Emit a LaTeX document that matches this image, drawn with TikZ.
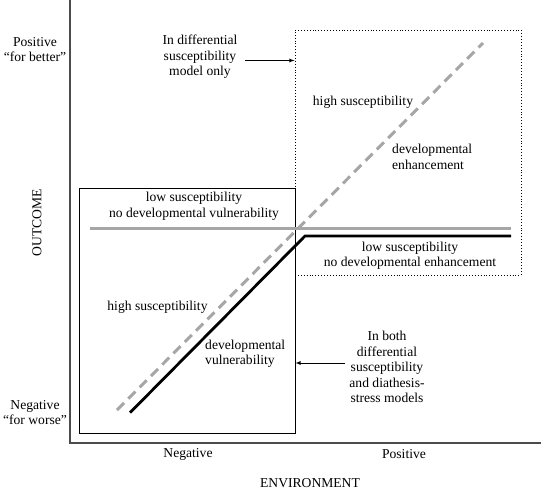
\documentclass[tikz,border=0pt]{standalone}
\usepackage{fontspec}
\setmainfont{Liberation Serif}
\usetikzlibrary{positioning,arrows}
\begin{document}
\begin{tikzpicture}[x=1pt,y=-1pt,
	lbl/.style={font=\fontsize{13.6}{15.5}\selectfont, align=center, inner sep=0pt},
	lbll/.style={lbl, align=left, anchor=west},
	frame/.style={draw, line width=0.9pt, inner sep=0pt},
	axis/.style={draw=black!70, line width=1.4pt}]
	
	\useasboundingbox (0,0) rectangle (542,490);
	
	% axes
	\coordinate (top) at (70,0);
	\coordinate (origin) at (70,443);
	\coordinate (right) at (541,443);
	\draw [axis] (top) -- (origin) -- (right);
	
	% boxes
	\node [frame, minimum width=216pt, minimum height=245pt] (vulbox) at (187,310.5) {};
	\node [frame, dotted, minimum width=226pt, minimum height=245pt] (enhbox) at (408,152.5) {};
	
	% lines
	\draw [line width=3pt, black!35] (90,228) -- (511,228);
	\draw [line width=2.8pt, black] (130,412.7) -- (305,236) -- (511,236);
	\draw [line width=3pt, black!35, dash pattern=on 10pt off 6pt] (117,410) -- (483,43);
	
	% axis labels
	\node [lbl] (pos) at (35,49.5) {Positive\\``for better''};
	\node [lbl] (neg) at (35,412.5) {Negative\\``for worse''};
	\node [lbl, rotate=90] (outcome) at (37,223) {OUTCOME};
	\node [lbl] (xneg) at (188,454) {Negative};
	\node [lbl] (xpos) at (404,454) {Positive};
	\node [lbl] (environment) at (310,483) {ENVIRONMENT};
	
	% texts in the boxes
	\node [lbl] (lowvul) at (194,206) {low susceptibility\\no developmental vulnerability};
	\node [lbl] (highvul) at (157.5,307) {high susceptibility};
	\node [lbll] (devvul) at (205,353.5) {developmental\\vulnerability};
	\node [lbl] (highenh) at (363,102) {high susceptibility};
	\node [lbll] (devenh) at (392,157) {developmental\\enhancement};
	\node [lbl] (lowenh) at (410,255.5) {low susceptibility\\no developmental enhancement};
	
	% notes with arrows
	\node [lbl] (diffonly) at (200,57) {In differential\\susceptibility\\model only};
	\node [lbl] (both) at (387,367) {In both\\differential\\susceptibility\\and diathesis-\\stress models};
	\coordinate (diffstart) at (245,60.5);
	\coordinate (bothstart) at (345,363);
	\draw [-latex, thick] (diffstart) -- (enhbox.west |- diffstart);
	\draw [-latex, thick] (bothstart) -- (vulbox.east |- bothstart);
	
\end{tikzpicture}
\end{document}
